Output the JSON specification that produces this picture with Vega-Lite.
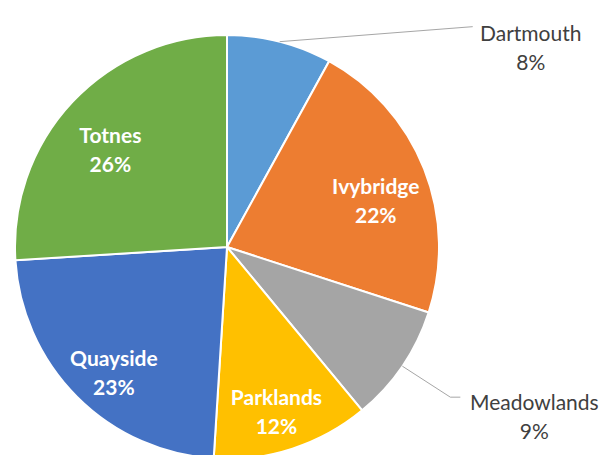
{
  "$schema": "https://vega.github.io/schema/vega-lite/v6.json",
  "width": 454,
  "height": 494,
  "autosize": {"type": "none"},
  "padding": {"left": 0, "top": 0, "right": 154, "bottom": 0},
  "background": "white",
  "config": {"view": {"stroke": null}, "font": "Lato"},
  "data": {
    "values": [
      {"name": "Dartmouth", "pct": 8},
      {"name": "Ivybridge", "pct": 22},
      {"name": "Meadowlands", "pct": 9},
      {"name": "Parklands", "pct": 12},
      {"name": "Quayside", "pct": 23},
      {"name": "Totnes", "pct": 26}
    ]
  },
  "transform": [
    {"window": [{"op": "sum", "field": "pct", "as": "cum"}], "sort": [{"field": "name"}], "frame": [null, 0]},
    {"calculate": "(datum.cum - datum.pct / 2) / 100 * 2 * PI", "as": "mid"},
    {"calculate": "212 * sin(datum.mid)", "as": "ex"},
    {"calculate": "212 * cos(datum.mid)", "as": "ey"},
    {"calculate": "datum.name + '\\n' + datum.pct + '%'", "as": "label"}
  ],
  "layer": [
    {
      "mark": {"type": "arc", "outerRadius": 212, "stroke": "white", "strokeWidth": 2},
      "encoding": {
        "theta": {"field": "pct", "type": "quantitative", "stack": true},
        "order": {"field": "cum", "type": "quantitative"},
        "color": {
          "field": "name",
          "type": "nominal",
          "scale": {
            "domain": ["Dartmouth", "Ivybridge", "Meadowlands", "Parklands", "Quayside", "Totnes"],
            "range": ["#5B9BD5", "#ED7D31", "#A5A5A5", "#FFC000", "#4472C4", "#70AD47"]
          },
          "legend": null
        }
      }
    },
    {
      "mark": {"type": "text", "lineBreak": "\n", "fontSize": 21, "fontWeight": "bold", "fill": "white", "lineHeight": 29, "align": "center", "baseline": "middle"},
      "encoding": {
        "theta": {"field": "pct", "type": "quantitative", "stack": true},
        "order": {"field": "cum", "type": "quantitative"},
        "radius": {"condition": {"test": "datum.name == 'Ivybridge'", "value": 147}, "value": 160},
        "text": {"condition": {"test": "datum.pct >= 10", "field": "label"}, "value": ""}
      }
    },
    {
      "transform": [
        {"filter": "datum.name == 'Dartmouth'"},
        {"calculate": "datum.ex + 193", "as": "lx"},
        {"calculate": "datum.ey + 15", "as": "ly"}
      ],
      "mark": {"type": "rule", "stroke": "#a6a6a6", "strokeWidth": 1},
      "encoding": {
        "x": {"field": "ex", "type": "quantitative", "scale": {"domain": [-227, 227]}, "axis": null},
        "y": {"field": "ey", "type": "quantitative", "scale": {"domain": [-247, 247]}, "axis": null},
        "x2": {"field": "lx"},
        "y2": {"field": "ly"}
      }
    },
    {
      "transform": [
        {"filter": "datum.name == 'Meadowlands'"},
        {"calculate": "datum.ex + 48", "as": "lx"},
        {"calculate": "datum.ey - 31", "as": "ly"}
      ],
      "mark": {"type": "rule", "stroke": "#a6a6a6", "strokeWidth": 1},
      "encoding": {
        "x": {"field": "ex", "type": "quantitative", "scale": {"domain": [-227, 227]}, "axis": null},
        "y": {"field": "ey", "type": "quantitative", "scale": {"domain": [-247, 247]}, "axis": null},
        "x2": {"field": "lx"},
        "y2": {"field": "ly"}
      }
    },
    {
      "transform": [
        {"filter": "datum.name == 'Meadowlands'"},
        {"calculate": "datum.ex + 48", "as": "sx"},
        {"calculate": "datum.ex + 58", "as": "lx"},
        {"calculate": "datum.ey - 31", "as": "ly"}
      ],
      "mark": {"type": "rule", "stroke": "#a6a6a6", "strokeWidth": 1},
      "encoding": {
        "x": {"field": "sx", "type": "quantitative", "scale": {"domain": [-227, 227]}, "axis": null},
        "y": {"field": "ly", "type": "quantitative", "scale": {"domain": [-247, 247]}, "axis": null},
        "x2": {"field": "lx"}
      }
    },
    {
      "transform": [{"filter": "datum.name == 'Dartmouth'"}],
      "mark": {"type": "text", "lineBreak": "\n", "fontSize": 21, "fill": "#404040", "lineHeight": 29, "align": "center", "baseline": "middle", "dx": 251, "dy": -7},
      "encoding": {
        "x": {"field": "ex", "type": "quantitative", "scale": {"domain": [-227, 227]}, "axis": null},
        "y": {"field": "ey", "type": "quantitative", "scale": {"domain": [-247, 247]}, "axis": null},
        "text": {"field": "label"}
      }
    },
    {
      "transform": [{"filter": "datum.name == 'Meadowlands'"}],
      "mark": {"type": "text", "lineBreak": "\n", "fontSize": 21, "fill": "#404040", "lineHeight": 29, "align": "center", "baseline": "middle", "dx": 132, "dy": 38},
      "encoding": {
        "x": {"field": "ex", "type": "quantitative", "scale": {"domain": [-227, 227]}, "axis": null},
        "y": {"field": "ey", "type": "quantitative", "scale": {"domain": [-247, 247]}, "axis": null},
        "text": {"field": "label"}
      }
    }
  ]
}
